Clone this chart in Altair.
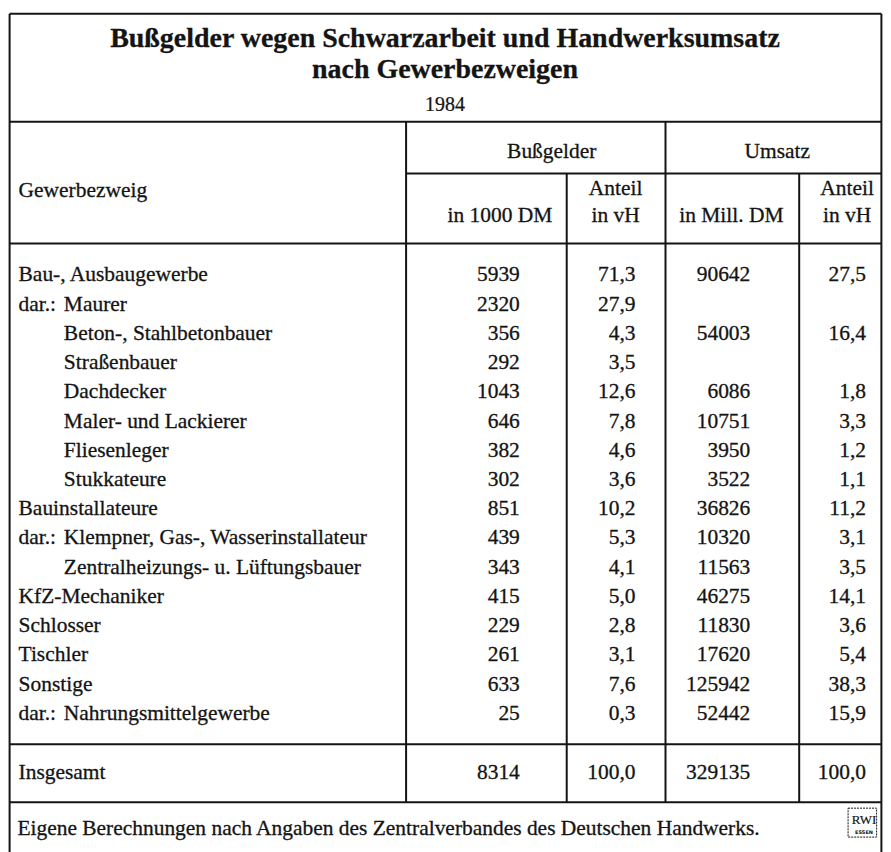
import altair as alt
import pandas as pd

# ---------------- data ----------------
title_lines = ["Bußgelder wegen Schwarzarbeit und Handwerksumsatz", "nach Gewerbezweigen"]
year = "1984"
gewerbe = ["Bau-, Ausbaugewerbe", "Maurer", "Beton-, Stahlbetonbauer", "Straßenbauer", "Dachdecker",
           "Maler- und Lackierer", "Fliesenleger", "Stukkateure", "Bauinstallateure",
           "Klempner, Gas-, Wasserinstallateur", "Zentralheizungs- u. Lüftungsbauer",
           "KfZ-Mechaniker", "Schlosser", "Tischler", "Sonstige", "Nahrungsmittelgewerbe"]
prefix = ["", "dar.:", "", "", "", "", "", "", "", "dar.:", "", "", "", "", "", "dar.:"]
indent = [0, 1, 1, 1, 1, 1, 1, 1, 0, 1, 1, 0, 0, 0, 0, 1]
bussgeld = [5939, 2320, 356, 292, 1043, 646, 382, 302, 851, 439, 343, 415, 229, 261, 633, 25]
bussgeld_anteil = [71.3, 27.9, 4.3, 3.5, 12.6, 7.8, 4.6, 3.6, 10.2, 5.3, 4.1, 5.0, 2.8, 3.1, 7.6, 0.3]
umsatz = [90642, None, 54003, None, 6086, 10751, 3950, 3522, 36826, 10320, 11563, 46275, 11830, 17620, 125942, 52442]
umsatz_anteil = [27.5, None, 16.4, None, 1.8, 3.3, 1.2, 1.1, 11.2, 3.1, 3.5, 14.1, 3.6, 5.4, 38.3, 15.9]
total_label = "Insgesamt"
totals = [8314, 100.0, 329135, 100.0]
group_heads = ["Bußgelder", "Umsatz"]
first_head = "Gewerbezweig"
sub_heads = [("", "in 1000 DM"), ("Anteil", "in vH"), ("", "in Mill. DM"), ("Anteil", "in vH")]
source_note = "Eigene Berechnungen nach Angaben des Zentralverbandes des Deutschen Handwerks."
logo_lines = ["RWI", "ESSEN"]

# ---------------- layout (table geometry) ----------------
FONT = "Liberation Serif"
INK = "#141414"
FS = 21.5
SW = 0.3
x_left, x_right = 1, 890
x_c1, x_c2, x_c3, x_c4 = 406, 567, 666, 800
y_top, y_titlebox, y_sub, y_head = 8, 121, 173, 243
y_first, row_h = 275, 29.3
y_tot_top, y_tot_bot = 745, 803
y_bottom = 870
num_right = [520, 636, 751, 867]
head_center = [500, 616, 732, 848]
group_center = [552, 778]
lab_x, ind_x = 16, 63

def fmt(v, dec):
    if v is None:
        return ""
    return f"{v:.1f}".replace(".", ",") if dec else str(int(v))

xs = alt.Scale(domain=[0, 20, 871, 891], range=[0, 12, 863, 875], nice=False, zero=False)
ys = alt.Scale(domain=[0, 20, 840], range=[0, 12, 832], nice=False, zero=False)

def enc(chart):
    return chart.encode(x=alt.X("x:Q", scale=xs, axis=None),
                        y=alt.Y("y:Q", scale=ys, axis=None),
                        text=alt.Text("t:N"))

def txt(df, **kw):
    base = dict(font=FONT, fontSize=FS, color=INK, stroke=INK, strokeWidth=SW,
                baseline="middle", align="left")
    base.update(kw)
    return enc(alt.Chart(df).mark_text(**base))

# rules
segs = [
    (x_left, x_right, y_top, y_top), (x_left, x_right, y_titlebox, y_titlebox),
    (x_c1, x_right, y_sub, y_sub), (x_left, x_right, y_head, y_head),
    (x_left, x_right, y_tot_top, y_tot_top), (x_left, x_right, y_tot_bot, y_tot_bot),
    (x_left, x_left, y_top, y_bottom), (x_right, x_right, y_top, y_bottom),
    (x_c1, x_c1, y_titlebox, y_tot_bot), (x_c3, x_c3, y_titlebox, y_tot_bot),
    (x_c2, x_c2, y_sub, y_tot_bot), (x_c4, x_c4, y_sub, y_tot_bot),
]
rules_df = pd.DataFrame(segs, columns=["x", "x2", "y", "y2"])
rules = alt.Chart(rules_df).mark_rule(color=INK, strokeWidth=2).encode(
    x=alt.X("x:Q", scale=xs, axis=None), x2="x2:Q",
    y=alt.Y("y:Q", scale=ys, axis=None), y2="y2:Q")

# title
title_df = pd.DataFrame({"x": [445, 445], "y": [38, 69], "t": title_lines})
title = txt(title_df, fontSize=28, fontWeight="bold", align="center", strokeWidth=0.3)
year_df = pd.DataFrame({"x": [445], "y": [104], "t": [year]})
year_t = txt(year_df, fontSize=20, align="center", strokeWidth=0.25)

# headers
gh_df = pd.DataFrame({"x": group_center, "y": [151, 151], "t": group_heads})
hdr = []
for (a, b), cx in zip(sub_heads, head_center):
    if a:
        hdr.append((cx, 188, a))
    hdr.append((cx, 216, b))
hdr_df = pd.DataFrame(hdr, columns=["x", "y", "t"])
head_c = txt(pd.concat([gh_df, hdr_df]), align="center")

# row labels
lab = []
for i, (g, p, ind) in enumerate(zip(gewerbe, prefix, indent)):
    y = y_first + i * row_h
    if p:
        lab.append((lab_x, y, p))
    lab.append((ind_x if ind else lab_x, y, g))
lab.append((lab_x, 190, first_head))
y_tot = (y_tot_top + y_tot_bot) / 2
lab.append((lab_x, y_tot, total_label))
lab_df = pd.DataFrame(lab, columns=["x", "y", "t"])
labels = txt(lab_df)

# numbers
nums = []
for i in range(len(gewerbe)):
    y = y_first + i * row_h
    vals = [fmt(bussgeld[i], False), fmt(bussgeld_anteil[i], True),
            fmt(umsatz[i], False), fmt(umsatz_anteil[i], True)]
    for xr, v in zip(num_right, vals):
        if v:
            nums.append((xr, y, v))
for xr, v, d in zip(num_right, totals, [False, True, False, True]):
    nums.append((xr, y_tot, fmt(v, d)))
num_df = pd.DataFrame(nums, columns=["x", "y", "t"])
numbers = txt(num_df, align="right")

# source note
note_df = pd.DataFrame({"x": [14], "y": [830], "t": [source_note]})
note = txt(note_df)

# RWI logo
logo_box = alt.Chart(pd.DataFrame({"x": [849], "x2": [882], "y": [809], "y2": [838]})).mark_rect(
    fill="white", stroke=INK, strokeWidth=1, strokeDash=[2, 1]).encode(
    x=alt.X("x:Q", scale=xs, axis=None), x2="x2:Q",
    y=alt.Y("y:Q", scale=ys, axis=None), y2="y2:Q")
logo_t1 = txt(pd.DataFrame({"x": [865], "y": [821], "t": [logo_lines[0]]}), fontSize=13,
              align="center", strokeWidth=0.2)
logo_t2 = txt(pd.DataFrame({"x": [865], "y": [833], "t": [logo_lines[1]]}), font="DejaVu Sans",
              fontSize=5, fontWeight="bold", align="center", strokeWidth=0)

chart = alt.layer(rules, title, year_t, head_c, labels, numbers, note,
                  logo_box, logo_t1, logo_t2).properties(
    width=875, height=832, padding=0, background="white"
).configure_view(stroke=None)

chart.save("out.html", embed_options={"renderer": "svg", "actions": False})
